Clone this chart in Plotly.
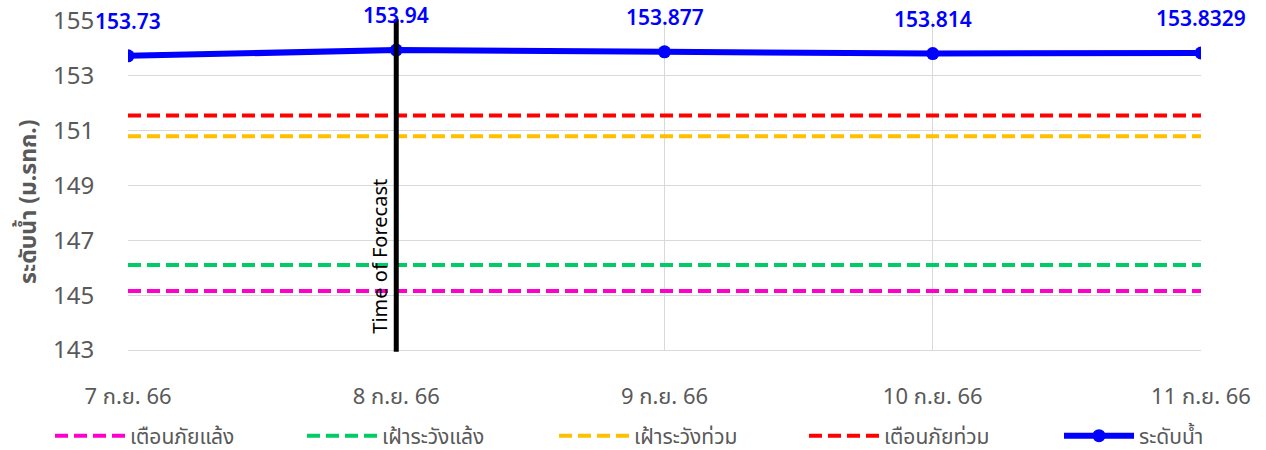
import plotly.graph_objects as go

categories = ["7 ก.ย. 66", "8 ก.ย. 66", "9 ก.ย. 66", "10 ก.ย. 66", "11 ก.ย. 66"]
water_level = [153.73, 153.94, 153.877, 153.814, 153.8329]
water_labels = ["153.73", "153.94", "153.877", "153.814", "153.8329"]
drought_warning = [145.15] * 5
drought_watch = [146.1] * 5
flood_watch = [150.8] * 5
flood_warning = [151.55] * 5
y_ticks = [143, 145, 147, 149, 151, 153, 155]
forecast_index = 1

x = list(range(len(categories)))
FONT = "Noto Sans, Noto Sans Thai, sans-serif"
W, H = 1266, 450
fig = go.Figure()

legend_x = [56, 308, 560, 810, 1065]  # symbol left edges in px

dash = "13px,6px"
series = [
    ("เตือนภัยแล้ง", drought_warning, "#FF00CC"),
    ("เฝ้าระวังแล้ง", drought_watch, "#00CC66"),
    ("เฝ้าระวังท่วม", flood_watch, "#FFC000"),
    ("เตือนภัยท่วม", flood_warning, "#FF0000"),
]
legend_names = ["legend", "legend2", "legend3", "legend4", "legend5"]
for i, (name, vals, color) in enumerate(series):
    fig.add_trace(go.Scatter(x=x, y=vals, mode="lines", name=name, legend=legend_names[i],
                             line=dict(color=color, width=4, dash=dash)))

fig.add_trace(go.Scatter(x=x, y=water_level, mode="lines+markers", name="ระดับน้ำ",
                         legend=legend_names[4],
                         line=dict(color="#0000FF", width=6),
                         marker=dict(size=13, color="#0000FF")))

for xi, yi, lab in zip(x, water_level, water_labels):
    fig.add_annotation(x=xi, y=yi, text=lab, showarrow=False, yshift=35,
                       font=dict(color="#0000FF", size=21, family=FONT, weight=600))

fig.add_shape(type="line", x0=forecast_index, x1=forecast_index, xref="x",
              y0=-0.005, y1=1.005, yref="paper", line=dict(color="black", width=5))
fig.add_annotation(x=forecast_index, y=0.286, xref="x", yref="paper",
                   text="Time of Forecast", textangle=-90, showarrow=False,
                   xanchor="right", yanchor="middle", xshift=-1,
                   font=dict(size=20, color="black", family=FONT))

# y-axis title
fig.add_annotation(x=(27 - 128) / 1073, y=(350 - 202) / 329, xref="paper", yref="paper",
                   text="<b>ระดับน้ำ (ม.รทก.)</b>", textangle=-90, showarrow=False,
                   xanchor="center", yanchor="middle",
                   font=dict(size=23, color="#595959", family=FONT))

legend_common = dict(orientation="h", xref="container", yref="container",
                     xanchor="left", yanchor="middle", y=1 - 436 / H,
                     font=dict(size=21, color="#595959"), itemwidth=70,
                     bgcolor="rgba(0,0,0,0)")
layout_legends = {}
for ln, lx in zip(legend_names, legend_x):
    layout_legends[ln] = dict(legend_common, x=(lx - 6) / W)

fig.update_layout(
    width=W, height=H,
    margin=dict(l=128, r=65, t=21, b=100, autoexpand=False),
    plot_bgcolor="white", paper_bgcolor="white",
    font=dict(family=FONT, color="#595959"),
    showlegend=True,
    **layout_legends,
)
fig.update_xaxes(range=[0, 4], tickvals=x, ticktext=categories,
                 showgrid=True, gridcolor="#D9D9D9", gridwidth=1,
                 showline=True, linecolor="#D9D9D9",
                 ticks="outside", ticklen=27, tickcolor="rgba(0,0,0,0)",
                 ticklabeloverflow="allow",
                 tickfont=dict(size=22, color="#595959"), zeroline=False)
fig.update_yaxes(range=[143, 155.0005], tickvals=y_ticks,
                 showgrid=True, gridcolor="#D9D9D9", gridwidth=1, zeroline=False,
                 ticks="outside", ticklen=28, tickcolor="rgba(0,0,0,0)",
                 ticklabeloverflow="allow",
                 tickfont=dict(size=24, color="#595959"))

fig.write_html("out.html", config={"displayModeBar": False},
               post_script="document.body.style.margin='0';")
